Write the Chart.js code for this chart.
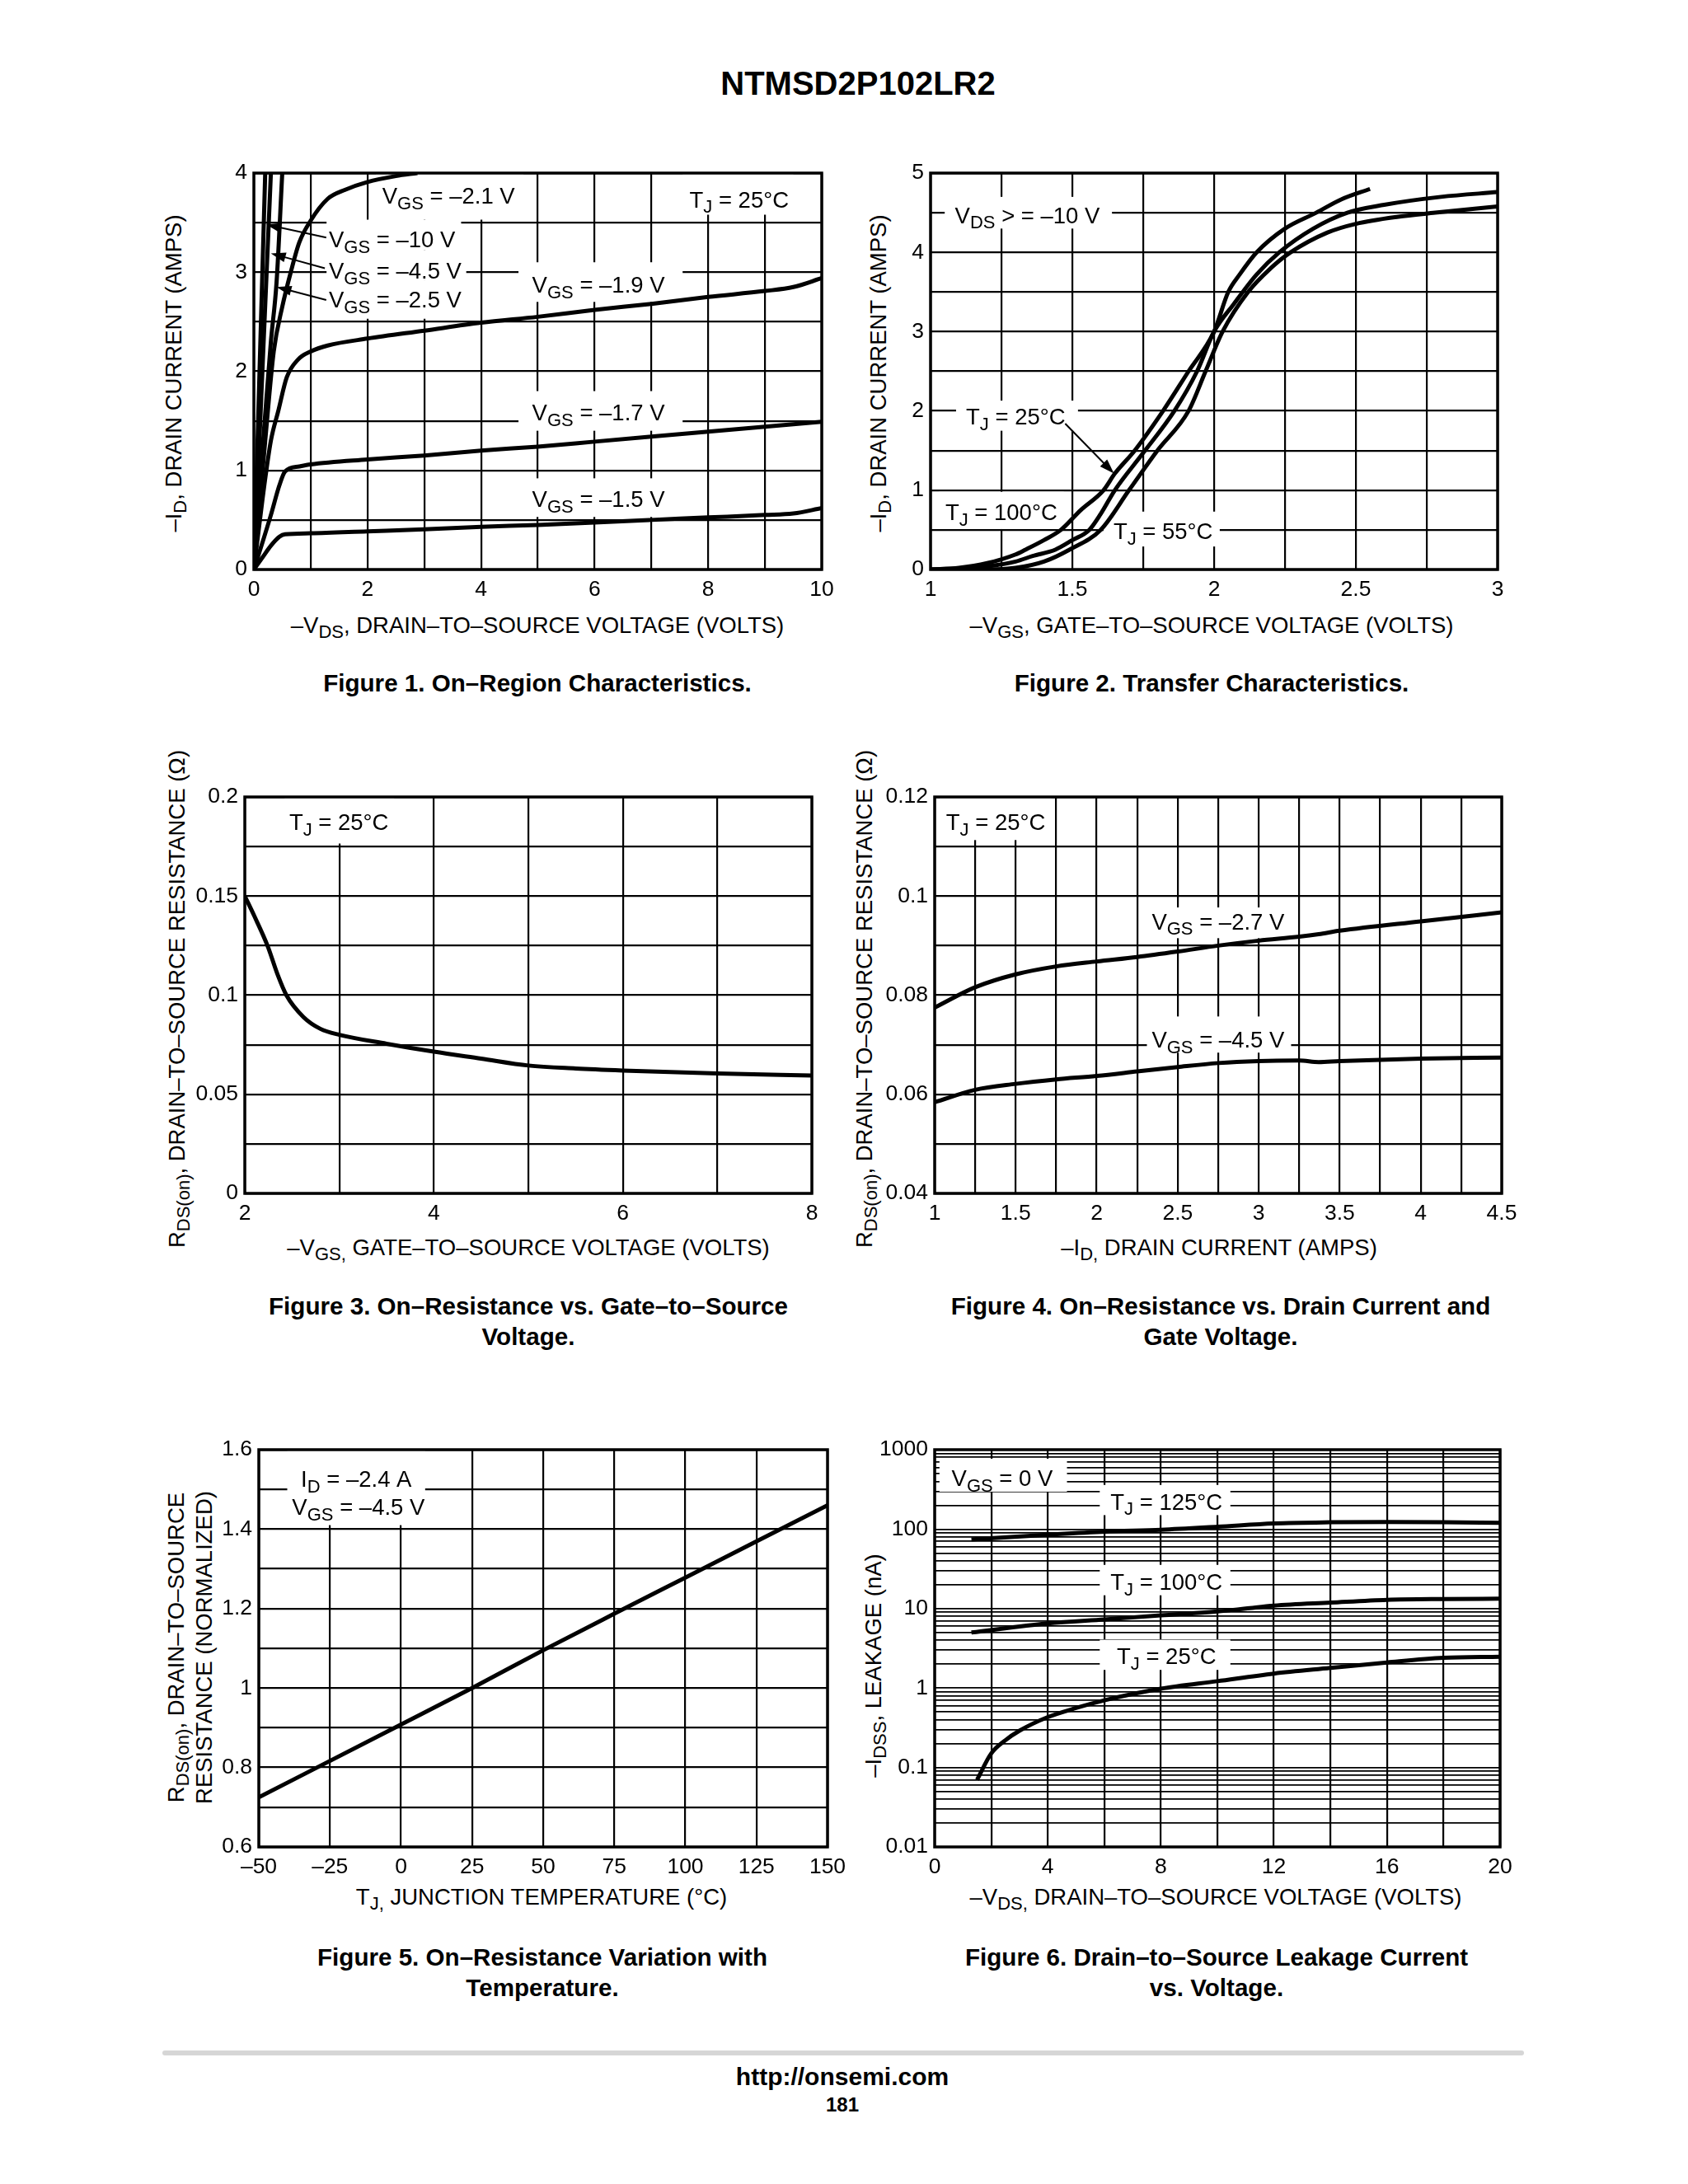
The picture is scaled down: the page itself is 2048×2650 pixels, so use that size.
<!DOCTYPE html>
<html>
<head>
<meta charset="utf-8">
<script src="https://cdn.jsdelivr.net/npm/chart.js@4.4.1/dist/chart.umd.min.js"></script>
<style>
body { margin: 0; background: #fff; }
#page { position: relative; width: 2048px; height: 2650px; background: #fff; color: #000;
        font-family: 'Liberation Sans', Arial, sans-serif; overflow: hidden; }
canvas { position: absolute; }
.t { position: absolute; transform: translate(-50%, -50%); white-space: nowrap; font-size: 27.5px; line-height: 1; }
.r { transform: translate(-50%, -50%) rotate(-90deg); text-align: center; }
.b { font-weight: bold; font-size: 29.6px; line-height: 37px; text-align: center; }
.s { font-size: 0.8em; position: relative; top: 0.28em; }
</style>
</head>
<body>
<div id="page">
  <div class="t" style="left:1041px;top:101px;font-weight:bold;font-size:40px">NTMSD2P102LR2</div>

  <!-- axis titles -->
  <div class="t" style="left:652px;top:759px">–V<span class="s">DS</span>, DRAIN–TO–SOURCE VOLTAGE (VOLTS)</div>
  <div class="t" style="left:1470px;top:759px">–V<span class="s">GS</span>, GATE–TO–SOURCE VOLTAGE (VOLTS)</div>
  <div class="t" style="left:641px;top:1514px">–V<span class="s">GS,</span> GATE–TO–SOURCE VOLTAGE (VOLTS)</div>
  <div class="t" style="left:1479px;top:1514px">–I<span class="s">D,</span> DRAIN CURRENT (AMPS)</div>
  <div class="t" style="left:657px;top:2302px">T<span class="s">J,</span> JUNCTION TEMPERATURE (°C)</div>
  <div class="t" style="left:1475px;top:2302px">–V<span class="s">DS,</span> DRAIN–TO–SOURCE VOLTAGE (VOLTS)</div>

  <div class="t r" style="left:211px;top:453px">–I<span class="s">D</span>, DRAIN CURRENT (AMPS)</div>
  <div class="t r" style="left:1066px;top:453px">–I<span class="s">D</span>, DRAIN CURRENT (AMPS)</div>
  <div class="t r" style="left:215px;top:1212px">R<span class="s">DS(on)</span>, DRAIN–TO–SOURCE RESISTANCE (Ω)</div>
  <div class="t r" style="left:1049px;top:1212px">R<span class="s">DS(on)</span>, DRAIN–TO–SOURCE RESISTANCE (Ω)</div>
  <div class="t r" style="left:231px;top:1999px;line-height:32px">R<span class="s">DS(on)</span>, DRAIN–TO–SOURCE<br>RESISTANCE (NORMALIZED)</div>
  <div class="t r" style="left:1060px;top:2021px">–I<span class="s">DSS</span>, LEAKAGE (nA)</div>

  <!-- captions -->
  <div class="t b" style="left:652px;top:828px">Figure 1. On–Region Characteristics.</div>
  <div class="t b" style="left:1470px;top:828px">Figure 2. Transfer Characteristics.</div>
  <div class="t b" style="left:641px;top:1603px">Figure 3. On–Resistance vs. Gate–to–Source<br>Voltage.</div>
  <div class="t b" style="left:1481px;top:1603px">Figure 4. On–Resistance vs. Drain Current and<br>Gate Voltage.</div>
  <div class="t b" style="left:658px;top:2393px">Figure 5. On–Resistance Variation with<br>Temperature.</div>
  <div class="t b" style="left:1476px;top:2393px">Figure 6. Drain–to–Source Leakage Current<br>vs. Voltage.</div>

  <!-- footer -->
  <div style="position:absolute;left:197px;top:2488px;width:1652px;height:6px;background:#d6d6d6;border-radius:3px"></div>
  <div class="t" style="left:1022px;top:2520px;font-weight:bold;font-size:30px">http://onsemi.com</div>
  <div class="t" style="left:1022px;top:2554px;font-weight:bold;font-size:24px">181</div>
</div>

<script>
const FONT = "'Liberation Sans', Arial, sans-serif";

// Figure 1 - on-region characteristics (-VDS volts, -ID amps)
const f1Vds10 = [0, 0.2];
const f1Id10 = [0, 4];
const f1Vds45 = [0, 0.15, 0.3];
const f1Id45 = [0, 2, 4];
const f1Vds25 = [0, 0.15, 0.3, 0.4, 0.5];
const f1Id25 = [0, 1.2, 2.3, 2.9, 4];
const f1Vds21 = [0, 0.2, 0.35, 0.5, 0.65, 0.8, 1.0, 1.3, 1.6, 2.0, 2.5, 2.88];
const f1Id21 = [0, 1.3, 2.2, 2.65, 3.0, 3.3, 3.52, 3.74, 3.83, 3.91, 3.97, 4.0];
const f1Vds19 = [0, 0.15, 0.3, 0.43, 0.58, 0.78, 1.0, 1.3, 2, 3, 4, 5, 6, 7, 8, 9, 9.5, 10];
const f1Id19 = [0, 0.7, 1.3, 1.6, 1.94, 2.12, 2.2, 2.26, 2.33, 2.41, 2.49, 2.55, 2.62, 2.68, 2.75, 2.81, 2.85, 2.94];
const f1Vds17 = [0, 0.15, 0.3, 0.45, 0.55, 0.8, 1, 2, 3, 4, 5, 6, 7, 8, 9, 10];
const f1Id17 = [0, 0.27, 0.55, 0.85, 0.99, 1.04, 1.06, 1.11, 1.15, 1.2, 1.24, 1.29, 1.34, 1.39, 1.44, 1.49];
const f1Vds15 = [0, 0.15, 0.3, 0.45, 0.55, 1, 2, 3, 4, 5, 6, 7, 8, 9, 9.5, 10];
const f1Id15 = [0, 0.12, 0.24, 0.33, 0.355, 0.365, 0.385, 0.405, 0.43, 0.45, 0.475, 0.5, 0.525, 0.55, 0.565, 0.62];
const f1XGrid = [0, 1, 2, 3, 4, 5, 6, 7, 8, 9, 10];
const f1XLabels = ['0', '2', '4', '6', '8', '10'];
const f1YGrid = [0, 0.5, 1, 1.5, 2, 2.5, 3, 3.5, 4];
const f1YLabels = ['0', '1', '2', '3', '4'];

// Figure 2 - transfer characteristics (-VGS volts, -ID amps)
const f2VgsA = [1, 1.1, 1.2, 1.3, 1.335, 1.4, 1.46, 1.53, 1.61, 1.65, 1.72, 1.82, 1.91, 2.0, 2.05, 2.09, 2.15, 2.25, 2.36, 2.45, 2.55];
const f2IdA = [0, 0.02, 0.08, 0.19, 0.25, 0.37, 0.5, 0.75, 1.0, 1.21, 1.5, 2.0, 2.5, 3.0, 3.5, 3.72, 4.0, 4.3, 4.5, 4.67, 4.8];
const f2VgsB = [1, 1.1, 1.2, 1.3, 1.36, 1.44, 1.5, 1.56, 1.6, 1.65, 1.75, 1.86, 1.94, 2.0, 2.07, 2.15, 2.23, 2.35, 2.47, 2.6, 2.8, 3.0];
const f2IdB = [0, 0.01, 0.04, 0.1, 0.17, 0.25, 0.37, 0.5, 0.7, 1.0, 1.47, 2.0, 2.5, 3.0, 3.35, 3.72, 4.0, 4.3, 4.5, 4.6, 4.7, 4.76];
const f2VgsC = [1, 1.2, 1.3, 1.4, 1.49, 1.6, 1.7, 1.8, 1.91, 1.97, 2.03, 2.12, 2.2, 2.27, 2.4, 2.5, 2.65, 2.78, 3.0];
const f2IdC = [0, 0, 0.02, 0.1, 0.25, 0.5, 1.0, 1.5, 2.0, 2.5, 3.0, 3.5, 3.8, 4.0, 4.25, 4.36, 4.45, 4.5, 4.58];
const f2XGrid = [1, 1.25, 1.5, 1.75, 2, 2.25, 2.5, 2.75, 3];
const f2XLabels = ['1', '1.5', '2', '2.5', '3'];
const f2YGrid = [0, 0.5, 1, 1.5, 2, 2.5, 3, 3.5, 4, 4.5, 5];
const f2YLabels = ['0', '1', '2', '3', '4', '5'];

// Figure 3 - on-resistance vs gate voltage
const f3Vgs = [2, 2.1, 2.24, 2.35, 2.44, 2.62, 2.8, 3.0, 3.5, 4.0, 4.5, 5.0, 5.5, 6.0, 7.0, 8.0];
const f3Rds = [0.15, 0.14, 0.125, 0.11, 0.1, 0.089, 0.083, 0.08, 0.0755, 0.0715, 0.068, 0.0645, 0.063, 0.062, 0.0605, 0.0595];
const f3XGrid = [2, 3, 4, 5, 6, 7, 8];
const f3XLabels = ['2', '4', '6', '8'];
const f3YGrid = [0, 0.025, 0.05, 0.075, 0.1, 0.125, 0.15, 0.175, 0.2];
const f3YLabels = ['0', '0.05', '0.1', '0.15', '0.2'];

// Figure 4 - on-resistance vs drain current
const f4Id = [1, 1.25, 1.5, 1.75, 2, 2.25, 2.5, 2.75, 3, 3.25, 3.37, 3.5, 4, 4.5];
const f4Rds27 = [0.0775, 0.0816, 0.0842, 0.0858, 0.0868, 0.0877, 0.0888, 0.09, 0.091, 0.0918, 0.0923, 0.093, 0.0949, 0.0967];
const f4Rds45 = [0.0584, 0.0609, 0.0621, 0.063, 0.0637, 0.0646, 0.0655, 0.0663, 0.0667, 0.0668, 0.0665, 0.0667, 0.0672, 0.0674];
const f4XGrid = [1, 1.25, 1.5, 1.75, 2, 2.25, 2.5, 2.75, 3, 3.25, 3.5, 3.75, 4, 4.25, 4.5];
const f4XLabels = ['1', '1.5', '2', '2.5', '3', '3.5', '4', '4.5'];
const f4YGrid = [0.04, 0.05, 0.06, 0.07, 0.08, 0.09, 0.1, 0.11, 0.12];
const f4YLabels = ['0.04', '0.06', '0.08', '0.1', '0.12'];

// Figure 5 - normalized on-resistance vs temperature
const f5Tj = [-50, 0, 25, 50, 75, 100, 125, 150];
const f5Rn = [0.725, 0.908, 1.0, 1.095, 1.187, 1.278, 1.369, 1.46];
const f5XGrid = [-50, -25, 0, 25, 50, 75, 100, 125, 150];
const f5XLabels = ['–50', '–25', '0', '25', '50', '75', '100', '125', '150'];
const f5YGrid = [0.6, 0.7, 0.8, 0.9, 1.0, 1.1, 1.2, 1.3, 1.4, 1.5, 1.6];
const f5YLabels = ['0.6', '0.8', '1', '1.2', '1.4', '1.6'];

// Figure 6 - leakage current vs voltage (nA)
const f6Vds125 = [1.3, 4, 6, 8, 10, 12, 14, 16, 18, 20];
const f6Idss125 = [74, 85, 93, 98, 107, 118, 122, 123, 122, 120];
const f6Vds100 = [1.3, 4, 6, 8, 10, 11, 12, 14, 16, 18, 20];
const f6Idss100 = [5.0, 6.5, 7.3, 8.2, 9.2, 10, 10.9, 11.9, 12.9, 13.2, 13.3];
const f6Vds25 = [1.5, 2, 2.5, 3, 4, 5, 6, 8, 10, 12, 14, 16, 18, 20];
const f6Idss25 = [0.07, 0.15, 0.22, 0.29, 0.43, 0.56, 0.7, 0.98, 1.22, 1.52, 1.79, 2.1, 2.4, 2.48];
const f6XGrid = [0, 2, 4, 6, 8, 10, 12, 14, 16, 18, 20];
const f6XLabels = ['0', '4', '8', '12', '16', '20'];
const f6Decades = [0.01, 0.1, 1, 10, 100];
const f6YLabels = ['0.01', '0.1', '1', '10', '100', '1000'];
const f6YGrid = f6Decades.flatMap(d => [1, 2, 3, 4, 5, 6, 7, 8, 9].map(k => +(d * k).toPrecision(6))).concat([1000]);

// page placement of each plot area [left, top, right, bottom]
const plots = {
  fig1: [308, 210, 997, 691],
  fig2: [1129, 210, 1817, 691],
  fig3: [297, 967, 985, 1448],
  fig4: [1134, 967, 1822, 1448],
  fig5: [314, 1759, 1004, 2241],
  fig6: [1134, 1759, 1820, 2241]
};
const YW = 80, XH = 45, PT = 25, PR = 35;

const V = (v) => [['V'], ['GS', 1], [' = ' + v]];
const T = (v) => [['T'], ['J', 1], [' = ' + v]];

// in-plot labels and arrows, placed in data coordinates
const notes = {
  fig1: {
    labels: [
      { x: 2.26, y: 3.787, t: V('–2.1 V'), box: [2.15, 3.53, 4.75, 4.0] },
      { x: 7.67, y: 3.75, t: T('25°C'), box: [7.55, 3.58, 9.5, 4.0] },
      { x: 1.32, y: 3.347, t: V('–10 V'), box: [1.28, 3.22, 3.65, 3.53] },
      { x: 1.32, y: 3.033, t: V('–4.5 V'), box: [1.28, 2.92, 3.74, 3.22] },
      { x: 1.32, y: 2.741, t: V('–2.5 V'), box: [1.28, 2.53, 3.74, 2.92] },
      { x: 4.9, y: 2.887, t: V('–1.9 V'), box: [4.66, 2.7, 7.55, 3.1] },
      { x: 4.9, y: 1.6, t: V('–1.7 V'), box: [4.66, 1.4, 7.55, 1.8] },
      { x: 4.9, y: 0.727, t: V('–1.5 V'), box: [4.66, 0.53, 7.55, 0.92] }
    ],
    arrows: [
      [[1.275, 3.35], [0.22, 3.48]],
      [[1.25, 3.04], [0.3, 3.19]],
      [[1.275, 2.72], [0.4, 2.85]]
    ]
  },
  fig2: {
    labels: [
      { x: 1.086, y: 4.49, t: [['V'], ['DS', 1], [' > = –10 V']], box: [1.05, 4.3, 1.64, 4.7] },
      { x: 1.125, y: 1.95, t: T('25°C'), box: [1.09, 1.75, 1.52, 2.13] },
      { x: 1.052, y: 0.74, t: T('100°C'), box: [1.03, 0.51, 1.47, 0.98] },
      { x: 1.645, y: 0.5, t: T('55°C'), box: [1.61, 0.29, 2.02, 0.73] }
    ],
    arrows: [[[1.475, 1.84], [1.647, 1.21]]]
  },
  fig3: {
    labels: [{ x: 2.47, y: 0.188, t: T('25°C'), box: [2.42, 0.1765, 3.58, 0.2] }],
    arrows: []
  },
  fig4: {
    labels: [
      { x: 1.07, y: 0.1152, t: T('25°C'), box: [1.03, 0.1113, 1.72, 0.12] },
      { x: 2.34, y: 0.0952, t: V('–2.7 V'), box: [2.3, 0.0915, 3.22, 0.0977] },
      { x: 2.34, y: 0.0714, t: V('–4.5 V'), box: [2.31, 0.0684, 3.2, 0.0757] }
    ],
    arrows: []
  },
  fig5: {
    labels: [
      { x: -35.2, y: 1.531, t: [['I'], ['D', 1], [' = –2.4 A']], box: [-40, 1.41, 8.5, 1.6] },
      { x: -38.3, y: 1.46, t: V('–4.5 V') }
    ],
    arrows: []
  },
  fig6: {
    labels: [
      { x: 0.6, y: 457, t: [['V'], ['GS', 1], [' = 0 V']], box: [0.17, 296, 4.68, 770] },
      { x: 8.2, y: 233, c: 1, t: T('125°C'), box: [5.84, 150, 10.46, 360] },
      { x: 8.2, y: 22.8, c: 1, t: T('100°C'), box: [5.84, 14.7, 10.46, 35.5] },
      { x: 8.2, y: 2.62, c: 1, t: T('25°C'), box: [5.84, 1.69, 10.46, 4.06] }
    ],
    arrows: []
  }
};

function pts(xs, ys) {
  return xs.map((x, i) => ({ x: x, y: ys[i] }));
}

function num(s) {
  return parseFloat(s.replace('–', '-'));
}

function tickLabel(labels) {
  return function (v) {
    const m = labels.find(l => Math.abs(num(l) - v) < 1e-6 * Math.max(1, Math.abs(v)));
    return m === undefined ? '' : m;
  };
}

function axis(pos, min, max, grid, labels, type) {
  return {
    type: type || 'linear',
    position: pos,
    min: min,
    max: max,
    afterBuildTicks: s => { s.ticks = grid.map(v => ({ value: v })); },
    afterFit: s => { if (pos === 'left') s.width = YW; else s.height = XH; },
    grid: { color: '#000', lineWidth: type === 'logarithmic' ? 1.7 : 2.2, drawTicks: false },
    border: { display: false },
    ticks: {
      autoSkip: false, maxRotation: 0, color: '#000',
      font: { size: 26.5, family: FONT },
      padding: pos === 'left' ? 8 : 9,
      callback: tickLabel(labels)
    }
  };
}

function drawParts(ctx, parts, x, y, center) {
  const size = 27.5, sub = 22;
  y += 4;
  let w = 0;
  parts.forEach(p => {
    ctx.font = (p[1] ? sub : size) + 'px ' + FONT;
    w += ctx.measureText(p[0]).width;
  });
  let cx = center ? x - w / 2 : x;
  ctx.textAlign = 'left';
  ctx.textBaseline = 'middle';
  ctx.fillStyle = '#000';
  parts.forEach(p => {
    ctx.font = (p[1] ? sub : size) + 'px ' + FONT;
    ctx.fillText(p[0], cx, p[1] ? y + size * 0.3 : y);
    cx += ctx.measureText(p[0]).width;
  });
}

const annotPlugin = {
  id: 'annot',
  beforeDatasetsDraw(chart) {
    const n = notes[chart.canvas.id];
    const ctx = chart.ctx, xs = chart.scales.x, ys = chart.scales.y, a = chart.chartArea;
    ctx.save();
    ctx.beginPath();
    ctx.rect(a.left, a.top, a.right - a.left, a.bottom - a.top);
    ctx.clip();
    ctx.fillStyle = '#fff';
    n.labels.forEach(l => {
      if (!l.box) return;
      const x1 = xs.getPixelForValue(l.box[0]), x2 = xs.getPixelForValue(l.box[2]);
      const y1 = ys.getPixelForValue(l.box[1]), y2 = ys.getPixelForValue(l.box[3]);
      ctx.fillRect(Math.min(x1, x2), Math.min(y1, y2), Math.abs(x2 - x1), Math.abs(y2 - y1));
    });
    ctx.restore();
    ctx.save();
    ctx.strokeStyle = '#000';
    ctx.lineWidth = 3.5;
    ctx.strokeRect(a.left, a.top, a.right - a.left, a.bottom - a.top);
    ctx.restore();
  },
  afterDatasetsDraw(chart) {
    const n = notes[chart.canvas.id];
    const ctx = chart.ctx, xs = chart.scales.x, ys = chart.scales.y;
    ctx.save();
    n.labels.forEach(l => {
      drawParts(ctx, l.t, xs.getPixelForValue(l.x), ys.getPixelForValue(l.y), l.c);
    });
    n.arrows.forEach(ar => {
      const x0 = xs.getPixelForValue(ar[0][0]), y0 = ys.getPixelForValue(ar[0][1]);
      const x1 = xs.getPixelForValue(ar[1][0]), y1 = ys.getPixelForValue(ar[1][1]);
      const ang = Math.atan2(y1 - y0, x1 - x0);
      ctx.strokeStyle = '#000';
      ctx.fillStyle = '#000';
      ctx.lineWidth = 2;
      ctx.beginPath();
      ctx.moveTo(x0, y0);
      ctx.lineTo(x1 - 12 * Math.cos(ang), y1 - 12 * Math.sin(ang));
      ctx.stroke();
      ctx.beginPath();
      ctx.moveTo(x1, y1);
      ctx.lineTo(x1 - 18 * Math.cos(ang) + 6 * Math.sin(ang), y1 - 18 * Math.sin(ang) - 6 * Math.cos(ang));
      ctx.lineTo(x1 - 18 * Math.cos(ang) - 6 * Math.sin(ang), y1 - 18 * Math.sin(ang) + 6 * Math.cos(ang));
      ctx.closePath();
      ctx.fill();
    });
    ctx.restore();
  }
};

function makeChart(id, xAxis, yAxis, series) {
  const [L, Tp, R, B] = plots[id];
  const c = document.createElement('canvas');
  c.id = id;
  const w = R - L + YW + PR, h = B - Tp + PT + XH;
  c.width = w;
  c.height = h;
  c.style.left = (L - YW) + 'px';
  c.style.top = (Tp - PT) + 'px';
  c.style.width = w + 'px';
  c.style.height = h + 'px';
  document.getElementById('page').appendChild(c);

  new Chart(c, {
    type: 'line',
    data: {
      datasets: series.map(d => ({
        data: d,
        borderColor: '#000',
        borderWidth: 5,
        pointRadius: 0,
        fill: false,
        cubicInterpolationMode: 'monotone'
      }))
    },
    options: {
      responsive: false,
      animation: false,
      events: [],
      layout: { padding: { top: PT, right: PR, left: 0, bottom: 0 } },
      scales: { x: xAxis, y: yAxis },
      plugins: { legend: { display: false }, tooltip: { enabled: false } }
    },
    plugins: [annotPlugin]
  });
}

makeChart('fig1',
  axis('bottom', 0, 10, f1XGrid, f1XLabels),
  axis('left', 0, 4, f1YGrid, f1YLabels),
  [pts(f1Vds10, f1Id10), pts(f1Vds45, f1Id45), pts(f1Vds25, f1Id25), pts(f1Vds21, f1Id21),
   pts(f1Vds19, f1Id19), pts(f1Vds17, f1Id17), pts(f1Vds15, f1Id15)]);

makeChart('fig2',
  axis('bottom', 1, 3, f2XGrid, f2XLabels),
  axis('left', 0, 5, f2YGrid, f2YLabels),
  [pts(f2VgsA, f2IdA), pts(f2VgsB, f2IdB), pts(f2VgsC, f2IdC)]);

makeChart('fig3',
  axis('bottom', 2, 8, f3XGrid, f3XLabels),
  axis('left', 0, 0.2, f3YGrid, f3YLabels),
  [pts(f3Vgs, f3Rds)]);

makeChart('fig4',
  axis('bottom', 1, 4.5, f4XGrid, f4XLabels),
  axis('left', 0.04, 0.12, f4YGrid, f4YLabels),
  [pts(f4Id, f4Rds27), pts(f4Id, f4Rds45)]);

makeChart('fig5',
  axis('bottom', -50, 150, f5XGrid, f5XLabels),
  axis('left', 0.6, 1.6, f5YGrid, f5YLabels),
  [pts(f5Tj, f5Rn)]);

makeChart('fig6',
  axis('bottom', 0, 20, f6XGrid, f6XLabels),
  axis('left', 0.01, 1000, f6YGrid, f6YLabels, 'logarithmic'),
  [pts(f6Vds125, f6Idss125), pts(f6Vds100, f6Idss100), pts(f6Vds25, f6Idss25)]);
</script>
</body>
</html>
